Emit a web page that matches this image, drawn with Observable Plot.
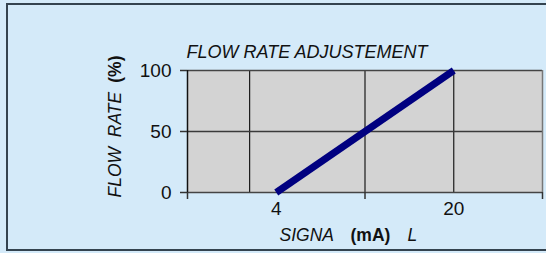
<!DOCTYPE html>
<html>
<head>
<meta charset="utf-8">
<script src="https://cdn.jsdelivr.net/npm/d3@7"></script>
<script src="https://cdn.jsdelivr.net/npm/@observablehq/plot@0.6"></script>
<style>
  html, body { margin: 0; padding: 0; background: #D4EAF9; }
  #wrap { position: relative; width: 546px; height: 253px; overflow: hidden; background: #D4EAF9; }
  #border { position: absolute; left: 6px; top: 3px; width: 600px; height: 248px; border: 2px solid #34434f; box-sizing: border-box; }
  #chart { position: absolute; left: 0; top: 0; }
</style>
</head>
<body>
<div id="wrap"><div id="border"></div><div id="chart"></div></div>
<script>
// Data
const signalMA = [4, 20];
const flowRate = [0, 100];
const xTickLabels = [4, 20];
const xTickMarks = [-4, 12, 28];
const xGrid = [1.6, 12, 20];
const yTicks = [0, 50, 100];
const yGrid = [50];
const titleText = "FLOW RATE ADJUSTEMENT";
const yTitleParts = ["FLOW  RATE", "(%)"];
const xTitleParts = ["SIGNA", "(mA)", "L"];

const lineData = signalMA.map((s, i) => ({signal: s, flow: flowRate[i]}));
const font = "'Liberation Sans', Arial, sans-serif";

const chart = Plot.plot({
  width: 546,
  height: 253,
  marginLeft: 187,
  marginRight: 4,
  marginTop: 70,
  marginBottom: 61,
  style: {background: "transparent", fontFamily: font, fontSize: "17px", color: "#111", overflow: "visible"},
  x: {domain: [-4, 28], axis: null},
  y: {domain: [0, 100], axis: null},
  marks: [
    Plot.frame({fill: "#d3d3d3", stroke: "none"}),
    Plot.ruleX(xGrid, {stroke: "#1a1a1a", strokeWidth: 1.2}),
    Plot.ruleY(yGrid, {stroke: "#3a3a3a", strokeWidth: 1.5}),
    Plot.ruleY([0, 100], {stroke: "#444", strokeWidth: 1.5}),
    Plot.ruleX([-4], {stroke: "#111", strokeWidth: 1.5}),
    Plot.ruleX([28], {stroke: "#777", strokeWidth: 1.5}),
    Plot.axisY({ticks: yTicks, tickSize: 7, tickFormat: () => "", label: null, stroke: "#333", strokeWidth: 1.5}),
    Plot.axisX({ticks: xTickMarks, tickSize: 7, tickFormat: () => "", label: null, stroke: "#333", strokeWidth: 1.5}),
    Plot.text(yTicks, {y: d => d, text: d => String(d), frameAnchor: "left", textAnchor: "end", dx: -16, fontSize: 19, fill: "#111"}),
    Plot.text(xTickLabels, {x: d => d, text: d => String(d), frameAnchor: "bottom", lineAnchor: "top", dy: 9, fontSize: 19, fill: "#111"}),
    Plot.line(lineData, {x: "signal", y: "flow", stroke: "#000080", strokeWidth: 7, strokeLinecap: "butt"}),
    Plot.text([titleText], {frameAnchor: "top-left", text: d => d, textAnchor: "start", lineAnchor: "bottom", dx: -1, dy: -13, fontSize: 18, fontStyle: "italic", fill: "#111"}),
    Plot.text([yTitleParts[0]], {frameAnchor: "bottom-left", text: d => d, rotate: -90, textAnchor: "start", lineAnchor: "bottom", dx: -67, dy: 5, fontSize: 17.5, fontStyle: "italic", fill: "#111"}),
    Plot.text([yTitleParts[1]], {frameAnchor: "top-left", text: d => d, rotate: -90, textAnchor: "end", lineAnchor: "bottom", dx: -67, dy: -15, fontSize: 17.5, fontWeight: "bold", fill: "#111"}),
    Plot.text([xTitleParts[0]], {frameAnchor: "bottom-left", text: d => d, textAnchor: "start", lineAnchor: "bottom", dx: 92, dy: 48, fontSize: 17.5, fontStyle: "italic", fill: "#111"}),
    Plot.text([xTitleParts[1]], {frameAnchor: "bottom-left", text: d => d, textAnchor: "start", lineAnchor: "bottom", dx: 163, dy: 48, fontSize: 17.5, fontWeight: "bold", fill: "#111"}),
    Plot.text([xTitleParts[2]], {frameAnchor: "bottom-left", text: d => d, textAnchor: "start", lineAnchor: "bottom", dx: 220, dy: 48, fontSize: 17.5, fontStyle: "italic", fill: "#111"})
  ]
});
document.getElementById("chart").appendChild(chart);
</script>
</body>
</html>
